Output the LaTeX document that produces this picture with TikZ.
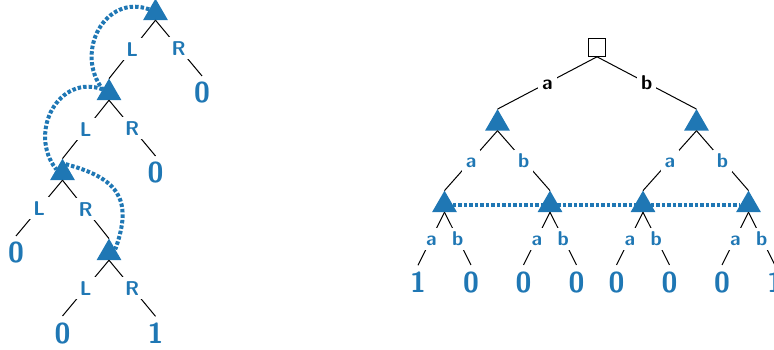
\documentclass[tikz,border=0pt]{standalone}
\usetikzlibrary{shapes.geometric}
\definecolor{tabblue}{HTML}{1F77B4}

\begin{document}
\begin{tikzpicture}[x=0.5pt, y=0.5pt, font=\sffamily\bfseries,
    tri/.style = {regular polygon, regular polygon sides=3, fill=tabblue,
        minimum size=14.4pt, inner sep=0pt, outer sep=0pt},
    leaf/.style = {text=tabblue, font=\sffamily\bfseries\Large, inner sep=3pt},
    lbl/.style = {fill=white, text=tabblue, inner sep=2pt, text height=7pt, text depth=0pt},
    lblk/.style = {lbl, text=black},
    branch/.style = {line width=0.5pt},
    infoset/.style = {tabblue, line width=2pt, dash pattern=on 1.75pt off 1pt}]
    \useasboundingbox (0,0) rectangle (774,349);

    % left tree
    \node[tri] (t1) at (155.5,336) {};
    \node[tri] (t2) at (109,256) {};
    \node[tri] (t3) at (62.5,176) {};
    \node[tri] (t4) at (109,96) {};

    \node[leaf] (z1) at (202,256) {0};
    \node[leaf] (z2) at (155.5,176) {0};
    \node[leaf] (z3) at (16,96) {0};
    \node[leaf] (z4) at (62.5,16) {0};
    \node[leaf] (z5) at (155.5,16) {1};

    \draw[branch] (t1.south) -- node[lbl] {L} (t2.north);
    \draw[branch] (t1.south) -- node[lbl] {R} (z1.north);
    \draw[branch] (t2.south) -- node[lbl] {L} (t3.north);
    \draw[branch] (t2.south) -- node[lbl] {R} (z2.north);
    \draw[branch] (t3.south) -- node[lbl] {L} (z3.north);
    \draw[branch] (t3.south) -- node[lbl] {R} (t4.north);
    \draw[branch] (t4.south) -- node[lbl] {L} (z4.north);
    \draw[branch] (t4.south) -- node[lbl] {R} (z5.north);

    \draw[infoset] (t1.side 1) to[out=160, in=128, looseness=1.3] (t2.side 1);
    \draw[infoset] (t2.side 1) to[out=160, in=128, looseness=1.3] (t3.side 1);
    \draw[infoset] (t3.70) to[out=-15, in=70, looseness=1.4] (t4.30);

    % right tree
    \node[draw, fill=white, minimum size=8.7pt, inner sep=0pt, line width=0.6pt] (root) at (597,301.5) {};
    \node[tri] (a) at (497.5,225.5) {};
    \node[tri] (b) at (696.5,225.5) {};
    \node[tri] (aa) at (444.5,144) {};
    \node[tri] (ab) at (550,144) {};
    \node[tri] (ba) at (643,144) {};
    \node[tri] (bb) at (748.5,144) {};

    \node[leaf] (y1) at (418,67) {1};
    \node[leaf] (y2) at (471,67) {0};
    \node[leaf] (y3) at (523.5,67) {0};
    \node[leaf] (y4) at (576.5,67) {0};
    \node[leaf] (y5) at (616.5,67) {0};
    \node[leaf] (y6) at (669.5,67) {0};
    \node[leaf] (y7) at (722,67) {0};
    \node[leaf] (y8) at (775,67) {1};

    \draw[infoset] (aa) -- (bb);

    \draw[branch] (root.south) -- node[lblk] {a} (a.north);
    \draw[branch] (root.south) -- node[lblk] {b} (b.north);
    \draw[branch] (a.south) -- node[lbl] {a} (aa.north);
    \draw[branch] (a.south) -- node[lbl] {b} (ab.north);
    \draw[branch] (b.south) -- node[lbl] {a} (ba.north);
    \draw[branch] (b.south) -- node[lbl] {b} (bb.north);
    \draw[branch] (aa.south) -- node[lbl] {a} (y1.north);
    \draw[branch] (aa.south) -- node[lbl] {b} (y2.north);
    \draw[branch] (ab.south) -- node[lbl] {a} (y3.north);
    \draw[branch] (ab.south) -- node[lbl] {b} (y4.north);
    \draw[branch] (ba.south) -- node[lbl] {a} (y5.north);
    \draw[branch] (ba.south) -- node[lbl] {b} (y6.north);
    \draw[branch] (bb.south) -- node[lbl] {a} (y7.north);
    \draw[branch] (bb.south) -- node[lbl] {b} (y8.north);
\end{tikzpicture}
\end{document}
